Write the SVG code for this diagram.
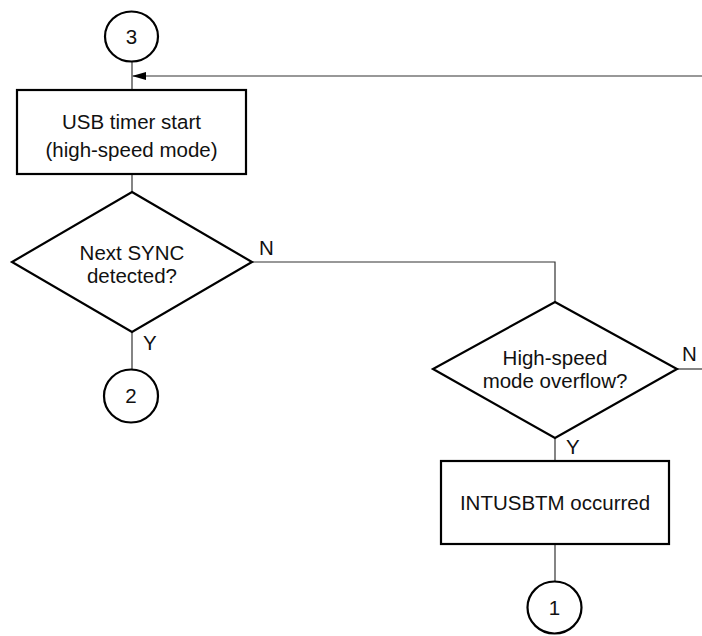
<svg xmlns="http://www.w3.org/2000/svg" width="702" height="636" viewBox="0 0 702 636">
<style>
.shape{fill:#fff;stroke:#000;stroke-width:2.2}
.conn{fill:none;stroke:#333;stroke-width:1.2}
text{font-family:"Liberation Sans",Arial,sans-serif;font-size:20.5px;fill:#111;text-anchor:middle}
.lbl{text-anchor:start}
</style>
<defs>
<marker id="arr" markerWidth="14" markerHeight="8" refX="13" refY="4" orient="auto" markerUnits="userSpaceOnUse">
<path d="M0,0 L14,4 L0,8 Z" fill="#000"/>
</marker>
</defs>
<rect width="702" height="636" fill="#fff"/>
<g id="connectors">
<line class="conn" x1="132" y1="62" x2="132" y2="90"/>
<line class="conn" x1="702" y1="76" x2="133" y2="76" marker-end="url(#arr)"/>
<line class="conn" x1="132" y1="174" x2="132" y2="193"/>
<line class="conn" x1="132" y1="332" x2="132" y2="369"/>
<polyline class="conn" points="252,262 555,262 555,302"/>
<line class="conn" x1="677" y1="369" x2="702" y2="369"/>
<line class="conn" x1="555" y1="438" x2="555" y2="461"/>
<line class="conn" x1="555" y1="544" x2="555" y2="581"/>
<text class="lbl" x="259" y="255">N</text>
<text class="lbl" x="143" y="350">Y</text>
<text class="lbl" x="682" y="361">N</text>
<text class="lbl" x="566" y="454">Y</text>
</g>
<g id="node-c3">
<ellipse class="shape" cx="131.5" cy="36.5" rx="26.5" ry="25"/>
<text x="131.5" y="43.5">3</text>
</g>
<g id="node-usb-timer">
<rect class="shape" x="17" y="90" width="229" height="84"/>
<text x="131.5" y="129">USB timer start</text>
<text x="131.5" y="157">(high-speed mode)</text>
</g>
<g id="node-next-sync">
<polygon class="shape" points="132,192 252,262 132,332 12,262"/>
<text x="132" y="260">Next SYNC</text>
<text x="132" y="283">detected?</text>
</g>
<g id="node-c2">
<ellipse class="shape" cx="131" cy="396" rx="27" ry="26.5"/>
<text x="131" y="403">2</text>
</g>
<g id="node-overflow">
<polygon class="shape" points="555,302 677,369 555,438 433,369"/>
<text x="555" y="365">High-speed</text>
<text x="555" y="388">mode overflow?</text>
</g>
<g id="node-intusbtm">
<rect class="shape" x="441" y="461" width="228" height="83"/>
<text x="555" y="510">INTUSBTM occurred</text>
</g>
<g id="node-c1">
<ellipse class="shape" cx="554.5" cy="607.5" rx="27" ry="26"/>
<text x="554.5" y="614.5">1</text>
</g>
</svg>
